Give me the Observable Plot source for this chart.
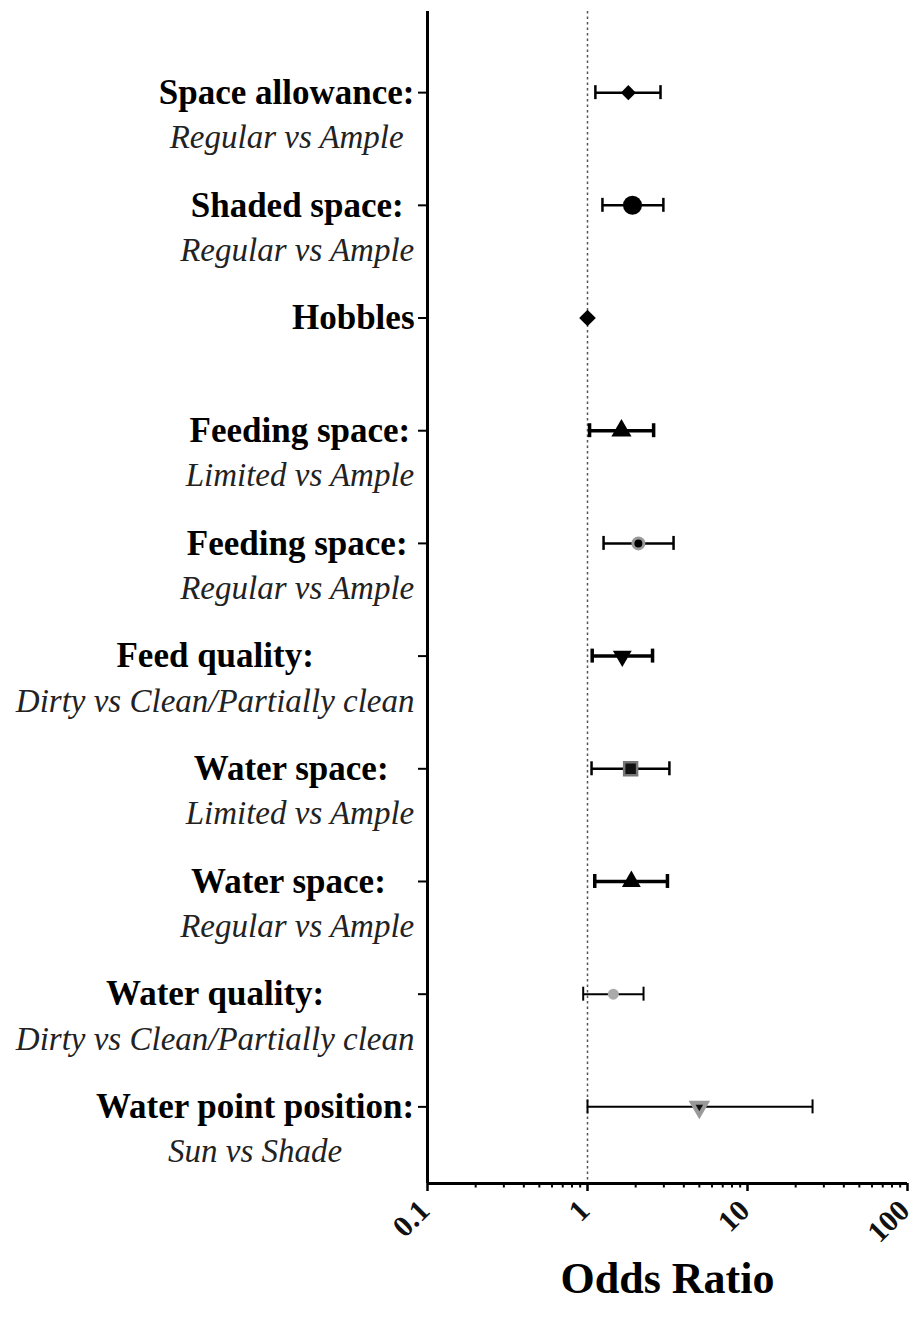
<!DOCTYPE html>
<html><head><meta charset="utf-8">
<script src="https://cdn.jsdelivr.net/npm/d3@7"></script>
<script src="https://cdn.jsdelivr.net/npm/@observablehq/plot@0.6"></script>
<style>body{margin:0;background:#fff;}</style>
</head><body><div id="chart"></div>
<script>
// ---- data ----
const factors = ["Space allowance:", "Shaded space:", "Hobbles", "Feeding space:", "Feeding space:", "Feed quality:", "Water space:\u00a0\u00a0", "Water space:\u00a0\u00a0", "Water quality:", "Water point position:"];
const comparisons = ["Regular vs Ample", "Regular vs Ample", "", "Limited vs Ample", "Regular vs Ample", "Dirty vs Clean/Partially clean", "Limited vs Ample", "Regular vs Ample", "Dirty vs Clean/Partially clean", "Sun vs Shade"];
const oddsRatio = [1.80, 1.91, 1.00, 1.63, 2.08, 1.65, 1.86, 1.88, 1.45, 5.0];
const ciLower   = [1.12, 1.24, null, 1.03, 1.26, 1.07, 1.06, 1.11, 0.94, 1.00];
const ciUpper   = [2.86, 2.98, null, 2.59, 3.45, 2.55, 3.25, 3.16, 2.24, 25.5];
const xTickValues = [0.1, 1, 10, 100];
const xTickLabels = ["0.1", "1", "10", "100"];
const xMinorTicks = [0.2, 0.3, 0.4, 0.5, 0.6, 0.7, 0.8, 0.9, 2, 3, 4, 5, 6, 7, 8, 9, 20, 30, 40, 50, 60, 70, 80, 90];
const xTitle = "Odds Ratio";

// ---- styles (separate from data) ----
const markerStyles = [
  {symbol: "diamond2", r: 6.8, fill: "#000", stroke: "none", sw: 0, rotate: 0, bar: 2.5},
  {symbol: "circle", r: 9.5, fill: "#000", stroke: "none", sw: 0, rotate: 0, bar: 2.5},
  {symbol: "diamond2", r: 7.5, fill: "#000", stroke: "none", sw: 0, rotate: 0, bar: 2.5},
  {symbol: "triangle", r: 7.5, fill: "#000", stroke: "none", sw: 0, rotate: 0, bar: 3.5},
  {symbol: "circle", r: 5.5, fill: "#000", stroke: "#9a9a9a", sw: 3, rotate: 0, bar: 2.5},
  {symbol: "triangle", r: 7, fill: "#000", stroke: "none", sw: 0, rotate: 180, bar: 3.5},
  {symbol: "square", r: 7.3, fill: "#111", stroke: "#777", sw: 2.5, rotate: 0, bar: 2.5},
  {symbol: "triangle", r: 7, fill: "#000", stroke: "none", sw: 0, rotate: 0, bar: 3.5},
  {symbol: "circle", r: 5.5, fill: "#aaa", stroke: "none", sw: 0, rotate: 0, bar: 2},
  {symbol: "triangle", r: 8, fill: "#999", stroke: "none", sw: 0, rotate: 180, bar: 2}
];
const SERIF = '"Liberation Serif", "Times New Roman", serif';
const FSB = 35, FSI = 33;
const W = 916, H = 1321;
const mLeft = 427, mRight = 9, mTop = 11, mBottom = 138;
const yDomain = [-0.72, 9.68];
const capHalf = 0.062;

const rows = factors.map((f, i) => ({i, factor: f, comparison: comparisons[i], or: oddsRatio[i], lo: ciLower[i], hi: ciUpper[i]}));

const ctx = document.createElement("canvas").getContext("2d");
function tw(text, font) { ctx.font = font; return ctx.measureText(text).width; }

const labelRight = -13;
const labelMarks = rows.flatMap(r => {
  const wb = tw(r.factor, `bold ${FSB}px ${SERIF}`);
  const wi = r.comparison ? tw(r.comparison, `italic ${FSI}px ${SERIF}`) : 0;
  const dx = labelRight - Math.max(wb, wi) / 2;
  const m = [Plot.text([r], {y: "i", text: "factor", frameAnchor: "left", dx, textAnchor: "middle", fontWeight: "bold", fontSize: FSB, fontFamily: SERIF, fill: "#000"})];
  if (r.comparison) m.push(Plot.text([r], {y: "i", text: "comparison", frameAnchor: "left", dx, dy: 45, textAnchor: "middle", fontStyle: "italic", fontSize: FSI, fontFamily: SERIF, fill: "#222"}));
  return m;
});

const barMarks = rows.filter(r => r.lo != null).flatMap(r => {
  const s = markerStyles[r.i];
  return [
    Plot.ruleY([r], {y: "i", x1: "lo", x2: "hi", stroke: "#000", strokeWidth: s.bar}),
    Plot.ruleX([r.lo, r.hi], {x: d => d, y1: r.i - capHalf, y2: r.i + capHalf, stroke: "#000", strokeWidth: s.bar})
  ];
});

const dotMarks = rows.map(r => {
  const s = markerStyles[r.i];
  return Plot.dot([r], {x: "or", y: "i", symbol: s.symbol, r: s.r, fill: s.fill, stroke: s.stroke, strokeWidth: s.sw, rotate: s.rotate});
});
// dark core of the last (grey) marker
dotMarks.push(Plot.dot([rows[9]], {x: "or", y: "i", symbol: "triangle", r: 2.8, fill: "#111", rotate: 180}));

const chart = Plot.plot({
  width: W, height: H,
  marginLeft: mLeft, marginRight: mRight, marginTop: mTop, marginBottom: mBottom,
  style: {background: "#fff", overflow: "visible"},
  x: {type: "log", domain: [0.1, 100]},
  y: {type: "linear", domain: yDomain, reverse: true},
  marks: [
    Plot.ruleX([1], {stroke: "#555", strokeWidth: 1.5, strokeDasharray: "2.5,3"}),
    ...barMarks,
    ...dotMarks,
    Plot.axisY({ticks: rows.map(r => r.i), tickSize: 9, tickFormat: () => "", strokeWidth: 2, label: null}),
    Plot.axisX({ticks: xMinorTicks, tickSize: 4.5, tickFormat: () => "", strokeWidth: 2, label: null}),
    Plot.axisX({ticks: xTickValues, tickSize: 8, tickFormat: () => "", strokeWidth: 2.5, label: null}),
    Plot.axisX({ticks: xTickValues, tickSize: 0, tickFormat: d => xTickLabels[xTickValues.indexOf(d)], tickRotate: -45, tickPadding: 22, dx: -3, fontSize: 30, fontWeight: "bold", fontFamily: SERIF, fill: "#111", label: null}),
    Plot.ruleX([0.1], {stroke: "#000", strokeWidth: 3}),
    Plot.ruleY([yDomain[1]], {stroke: "#000", strokeWidth: 3}),
    Plot.text([xTitle], {frameAnchor: "bottom", dy: 109, text: d => d, fontSize: 44, fontWeight: "bold", fontFamily: SERIF, fill: "#000"}),
    ...labelMarks
  ]
});
document.getElementById("chart").append(chart);
</script>
</body></html>
